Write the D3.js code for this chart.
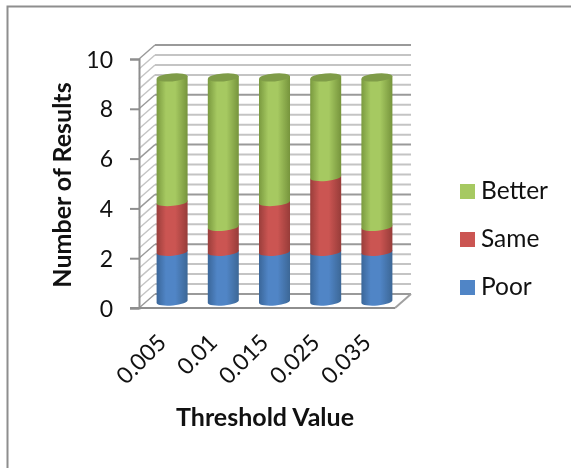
<!DOCTYPE html>
<html>
<head>
<meta charset="utf-8">
<script src="https://cdn.jsdelivr.net/npm/d3@7"></script>
<style>
    html, body { margin: 0; padding: 0; background: #fff; }
    svg { filter: blur(0.4px); }
    text { font-family: Lato, "Open Sans", sans-serif; fill: #111; }
</style>
</head>
<body>
<div id="chart"></div>
<script>
const thresholds = ["0.005", "0.01", "0.015", "0.025", "0.035"];
const seriesNames = ["Poor", "Same", "Better"];
const poor = [2, 2, 2, 2, 2];
const same = [2, 1, 2, 3, 1];
const better = [5, 6, 5, 4, 6];
const yTicks = [0, 2, 4, 6, 8, 10];
const yGrid = d3.range(0, 10.01, 0.4);
const colors = {
    Poor: ["#3a6699", "#5085c6", "#3c6796"],
    Same: ["#9a3e3b", "#cb5552", "#973c39"],
    Better: ["#7a9a3f", "#a6c961", "#76943c"]
};

const width = 571, height = 468;
const depthX = 16, depthY = 14;
const barWidth = 31, rx = 15.5, ry = 4;

const x = d3.scaleBand().domain(thresholds).range([139, 395]);
const y = d3.scaleLinear().domain([0, 10]).range([308, 59]);

const svg = d3.select("#chart").append("svg")
    .attr("width", width)
    .attr("height", height)
    .style("display", "block");

// outer frame, only top and left show up
svg.append("path")
    .attr("d", `M7.5,${height} V6.5 H${width}`)
    .attr("fill", "none")
    .attr("stroke", "#8e8e8e")
    .attr("stroke-width", 2);

// back wall grid
svg.append("g")
    .selectAll("line")
    .data(yGrid)
    .join("line")
    .attr("x1", 139 + depthX)
    .attr("x2", 395 + depthX)
    .attr("y1", d => y(d) - depthY)
    .attr("y2", d => y(d) - depthY)
    .attr("stroke", (d, i) => i % 5 == 0 ? "#9a9a9a" : "#c4c4c4")
    .attr("stroke-width", 2);

// side wall
svg.append("g")
    .selectAll("line")
    .data(yGrid)
    .join("line")
    .attr("x1", 139)
    .attr("x2", 139 + depthX)
    .attr("y1", d => y(d))
    .attr("y2", d => y(d) - depthY)
    .attr("stroke", (d, i) => i % 5 == 0 ? "#9a9a9a" : "#c4c4c4")
    .attr("stroke-width", 1.4);

// floor
svg.append("path")
    .attr("d", `M395,${y(0)} L${395 + depthX},${y(0) - depthY}`)
    .attr("fill", "none")
    .attr("stroke", "#a0a0a0")
    .attr("stroke-width", 2);

// y axis
const yAxis = d3.axisLeft(y)
    .tickValues(yTicks)
    .tickSize(9)
    .tickPadding(17)
    .tickFormat(d3.format("d"));

const yG = svg.append("g")
    .attr("transform", "translate(139,0)")
    .call(yAxis);
yG.select(".domain").attr("stroke", "#8e8e8e").attr("stroke-width", 2);
yG.selectAll(".tick line").attr("stroke", "#8e8e8e").attr("stroke-width", 2);
yG.selectAll(".tick text").style("font-size", "23px").attr("dy", "0.35em");

// x axis
const xAxis = d3.axisBottom(x).tickSize(0).tickPadding(0);
const xG = svg.append("g")
    .attr("transform", `translate(0,${y(0)})`)
    .call(xAxis);
xG.select(".domain").attr("d", "M130,0 H395").attr("stroke", "#8e8e8e").attr("stroke-width", 2);
xG.selectAll(".tick text")
    .style("font-size", "23px")
    .attr("text-anchor", "end")
    .attr("dy", 0)
    .attr("y", 0)
    .attr("transform", "translate(3,36) rotate(-45)");

// cylinder gradients
const defs = svg.append("defs");
seriesNames.forEach(name => {
    const grad = defs.append("linearGradient").attr("id", "grad-" + name);
    const stops = colors[name];
    [[0, stops[0]], [0.3, stops[1]], [0.6, stops[1]], [1, stops[2]]].forEach(s => {
        grad.append("stop").attr("offset", s[0]).attr("stop-color", s[1]);
    });
});

const stacked = d3.stack().keys(seriesNames)(thresholds.map((t, i) => ({
    threshold: t,
    Poor: poor[i],
    Same: same[i],
    Better: better[i]
})));

const barLeft = d => x(d.data.threshold) + (x.bandwidth() - barWidth) / 2 + 7.5;
const tilt = 1.5;

function cylinderPath(d) {
    const xl = barLeft(d), xr = xl + barWidth;
    const y0 = y(d[0]) - 6.5, y1 = y(d[1]) - 6.5;
    return `M${xl},${y1 + tilt} L${xl},${y0 + tilt}`
        + ` A${rx},${ry} -5 0 0 ${xr},${y0 - tilt}`
        + ` L${xr},${y1 - tilt} Z`;
}

stacked.forEach(layer => {
    svg.append("g")
        .selectAll("path")
        .data(layer)
        .join("path")
        .attr("d", cylinderPath)
        .attr("fill", `url(#grad-${layer.key})`);
});

// top caps
svg.append("g")
    .selectAll("ellipse")
    .data(stacked[2])
    .join("ellipse")
    .attr("cx", 0)
    .attr("cy", 0)
    .attr("rx", rx)
    .attr("ry", ry)
    .attr("transform", d => `translate(${barLeft(d) + barWidth / 2},${y(d[1]) - 6.5}) rotate(-5)`)
    .attr("fill", "#7f9c48");

// axis titles
svg.append("text")
    .attr("transform", "translate(71,185) rotate(-90)")
    .attr("text-anchor", "middle")
    .style("font-size", "25px")
    .style("font-weight", "bold")
    .text("Number of Results");

svg.append("text")
    .attr("x", 265)
    .attr("y", 426)
    .attr("text-anchor", "middle")
    .style("font-size", "25px")
    .style("font-weight", "bold")
    .text("Threshold Value");

// legend
const legend = svg.append("g")
    .selectAll("g")
    .data(seriesNames.slice().reverse())
    .join("g")
    .attr("transform", (d, i) => `translate(460,${184 + i * 48})`);

legend.append("rect")
    .attr("width", 15)
    .attr("height", 15)
    .attr("fill", d => colors[d][1]);

legend.append("text")
    .attr("x", 21)
    .attr("y", 15)
    .style("font-size", "24.5px")
    .text(d => d);
</script>
</body>
</html>
